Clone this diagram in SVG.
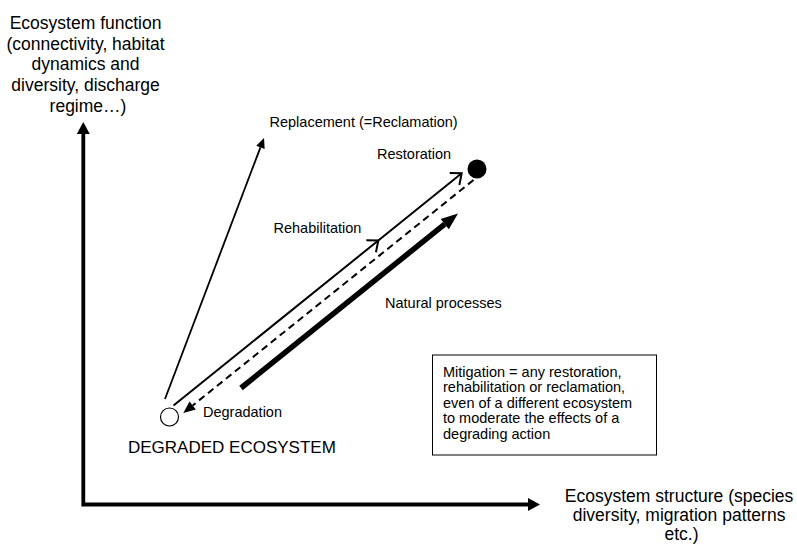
<svg xmlns="http://www.w3.org/2000/svg" width="797" height="548" viewBox="0 0 797 548">
  <style>
    text { font-family: "Liberation Sans", Arial, sans-serif; fill: #000; }
    .axis-label { font-size: 17.5px; text-anchor: middle; }
    .label { font-size: 14.5px; }
    .state { font-size: 17px; }
    .note { font-size: 14.5px; }
    .axis { fill: none; stroke: #000; stroke-width: 3.8; stroke-linejoin: miter; }
    .thin { fill: none; stroke: #000; stroke-width: 1.8; }
    .rehab { fill: none; stroke: #000; stroke-width: 2; }
    .dashed { fill: none; stroke: #000; stroke-width: 2; stroke-dasharray: 7 4.5; }
    .thick { fill: none; stroke: #000; stroke-width: 5.5; }
  </style>
  <defs>
    <marker id="axisHead" markerUnits="userSpaceOnUse" markerWidth="20" markerHeight="20" refX="0" refY="0" orient="auto-start-reverse" overflow="visible">
      <path d="M0,-6.5 L12,0 L0,6.5 Z" fill="#000"/>
    </marker>
    <marker id="smallHead" markerUnits="userSpaceOnUse" markerWidth="20" markerHeight="20" refX="0" refY="0" orient="auto" overflow="visible">
      <path d="M0,-4.5 L10,0 L0,4.5 Z" fill="#000"/>
    </marker>
    <marker id="dashHead" markerUnits="userSpaceOnUse" markerWidth="20" markerHeight="20" refX="0" refY="0" orient="auto" overflow="visible">
      <path d="M0,-5 L12,0 L0,5 Z" fill="#000"/>
    </marker>
    <marker id="bigHead" markerUnits="userSpaceOnUse" markerWidth="30" markerHeight="30" refX="0" refY="0" orient="auto" overflow="visible">
      <path d="M0,-6.5 L17,0 L0,6.5 Z" fill="#000"/>
    </marker>
    <marker id="openHead" markerUnits="userSpaceOnUse" markerWidth="30" markerHeight="30" refX="0" refY="0" orient="auto" overflow="visible">
      <path d="M-9.2,-7.7 L0,0 L-9.2,7.7" fill="none" stroke="#000" stroke-width="2" stroke-linejoin="miter"/>
    </marker>
  </defs>

  <!-- axes -->
  <g id="axes">
    <path class="axis" d="M83.3,134 V504.5 H528" marker-start="url(#axisHead)" marker-end="url(#axisHead)"/>
    <text class="axis-label">
      <tspan x="88" y="29">Ecosystem function</tspan>
      <tspan x="88" y="49.7">(connectivity, habitat</tspan>
      <tspan x="88" y="70.3">dynamics and</tspan>
      <tspan x="88" y="91">diversity, discharge</tspan>
      <tspan x="88" y="111.7">regime…)</tspan>
    </text>
    <text class="axis-label">
      <tspan x="681.5" y="502">Ecosystem structure (species</tspan>
      <tspan x="681.5" y="521">diversity, migration patterns</tspan>
      <tspan x="681.5" y="540">etc.)</tspan>
    </text>
  </g>

  <!-- pathways between states -->
  <g id="connectors">
    <line id="replacement" class="thin" x1="165" y1="399" x2="260.45" y2="147.35" marker-end="url(#smallHead)"/>
    <polyline id="rehabilitation" class="rehab" points="173.5,405.5 378.3,240.5 461.7,173.3" marker-mid="url(#openHead)" marker-end="url(#openHead)"/>
    <line id="degradation" class="dashed" x1="473.5" y1="180" x2="192.66" y2="405.49" marker-end="url(#dashHead)"/>
    <line id="natural" class="thick" x1="241" y1="388" x2="444.75" y2="224.15" marker-end="url(#bigHead)"/>
  </g>

  <!-- degraded state -->
  <g id="degraded">
    <circle cx="169.5" cy="417" r="9" fill="#fff" stroke="#000" stroke-width="1.2"/>
    <text class="state" x="128" y="453">DEGRADED ECOSYSTEM</text>
  </g>

  <!-- restored state -->
  <g id="restored">
    <circle cx="477" cy="169" r="9.5" fill="#000"/>
    <text class="label" x="377" y="159">Restoration</text>
  </g>

  <g id="label-replacement">
    <text class="label" x="269.5" y="126.7">Replacement (=Reclamation)</text>
  </g>
  <g id="label-rehabilitation">
    <text class="label" x="273.5" y="233.3">Rehabilitation</text>
  </g>
  <g id="label-natural">
    <text class="label" x="385" y="307.5">Natural processes</text>
  </g>
  <g id="label-degradation">
    <text class="label" x="203" y="416.7">Degradation</text>
  </g>

  <!-- definition note -->
  <g id="mitigation">
    <rect x="432.5" y="355" width="224" height="100" fill="#fff" stroke="#000" stroke-width="1"/>
    <text class="note">
      <tspan x="443" y="376.5">Mitigation = any restoration,</tspan>
      <tspan x="443" y="392">rehabilitation or reclamation,</tspan>
      <tspan x="443" y="407.5">even of a different ecosystem</tspan>
      <tspan x="443" y="423">to moderate the effects of a</tspan>
      <tspan x="443" y="438.5">degrading action</tspan>
    </text>
  </g>
</svg>
